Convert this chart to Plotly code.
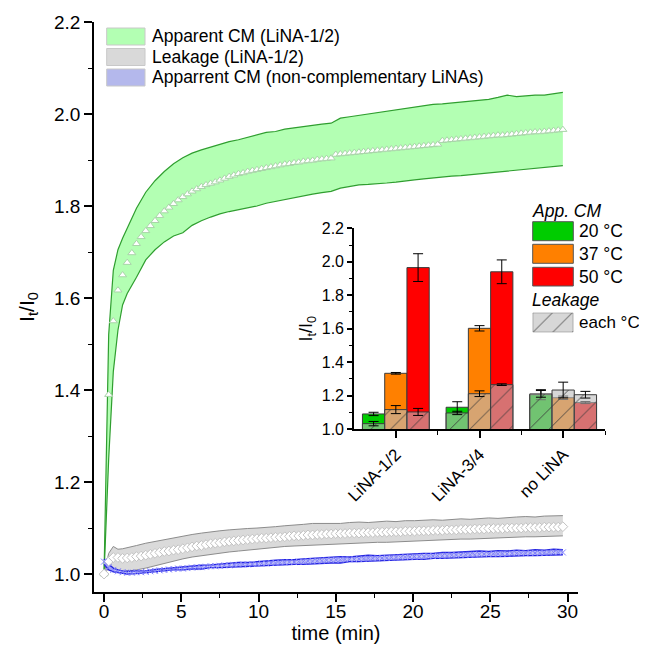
import plotly.graph_objects as go

# ---------------- data: main kinetics (t in min, step 0.3 min for means) ----------------
green_mean = [1.000, 1.390, 1.550, 1.617, 1.650, 1.677, 1.698, 1.718, 1.733, 1.746,
              1.757, 1.768, 1.779, 1.789, 1.797, 1.805, 1.813, 1.820, 1.826, 1.832,
              1.837, 1.842, 1.846, 1.849, 1.852, 1.856, 1.860, 1.864, 1.867, 1.870,
              1.872, 1.875, 1.877, 1.879, 1.881, 1.883, 1.885, 1.887, 1.889, 1.891,
              1.892, 1.894, 1.895, 1.897, 1.898, 1.899, 1.901, 1.902, 1.903, 1.904,
              1.912, 1.913, 1.914, 1.915, 1.916, 1.917, 1.918, 1.919, 1.920, 1.921,
              1.922, 1.923, 1.924, 1.925, 1.926, 1.927, 1.928, 1.929, 1.930, 1.931,
              1.932, 1.933, 1.934, 1.942, 1.943, 1.944, 1.945, 1.946, 1.947, 1.948,
              1.949, 1.950, 1.951, 1.952, 1.953, 1.954, 1.954, 1.955, 1.956, 1.957,
              1.958, 1.959, 1.960, 1.961, 1.961, 1.962, 1.963, 1.964, 1.965, 1.966]

gray_mean = [1.000, 1.028, 1.036, 1.036, 1.034, 1.035, 1.036, 1.038, 1.039, 1.041,
             1.043, 1.045, 1.047, 1.049, 1.050, 1.052, 1.053, 1.055, 1.057, 1.059,
             1.061, 1.062, 1.064, 1.066, 1.067, 1.068, 1.070, 1.071, 1.072, 1.073,
             1.074, 1.075, 1.076, 1.077, 1.078, 1.078, 1.079, 1.080, 1.080, 1.081,
             1.082, 1.083, 1.083, 1.084, 1.085, 1.085, 1.086, 1.086, 1.087, 1.087,
             1.088, 1.088, 1.088, 1.089, 1.089, 1.089, 1.090, 1.090, 1.090, 1.091,
             1.091, 1.091, 1.092, 1.092, 1.092, 1.093, 1.093, 1.093, 1.094, 1.094,
             1.094, 1.095, 1.095, 1.095, 1.096, 1.096, 1.096, 1.097, 1.097, 1.097,
             1.098, 1.098, 1.098, 1.099, 1.099, 1.099, 1.099, 1.100, 1.100, 1.100,
             1.100, 1.101, 1.101, 1.101, 1.101, 1.102, 1.102, 1.102, 1.102, 1.103]

blue_mean = [1.027, 1.015, 1.009, 1.006, 1.004, 1.003, 1.003, 1.004, 1.004, 1.005,
             1.006, 1.007, 1.008, 1.009, 1.010, 1.011, 1.012, 1.012, 1.013, 1.014,
             1.015, 1.015, 1.016, 1.017, 1.017, 1.018, 1.019, 1.019, 1.020, 1.020,
             1.021, 1.021, 1.022, 1.022, 1.023, 1.023, 1.024, 1.024, 1.025, 1.025,
             1.026, 1.026, 1.027, 1.027, 1.028, 1.028, 1.029, 1.029, 1.030, 1.030,
             1.031, 1.031, 1.032, 1.032, 1.032, 1.033, 1.033, 1.034, 1.034, 1.034,
             1.035, 1.035, 1.036, 1.036, 1.036, 1.037, 1.037, 1.038, 1.038, 1.038,
             1.039, 1.039, 1.040, 1.040, 1.040, 1.041, 1.041, 1.041, 1.042, 1.042,
             1.042, 1.043, 1.043, 1.043, 1.044, 1.044, 1.044, 1.044, 1.045, 1.045,
             1.045, 1.045, 1.046, 1.046, 1.046, 1.046, 1.047, 1.047, 1.047, 1.047]

# band edges (SD envelope), sampled at 0,0.3,0.6,0.9,1.2 then every 0.6 min from 1.5
green_upper = [1.000, 1.52, 1.66, 1.705, 1.73, 1.752, 1.795, 1.83, 1.855, 1.875,
               1.892, 1.905, 1.915, 1.922, 1.928, 1.933, 1.940, 1.944, 1.949, 1.955,
               1.960, 1.962, 1.967, 1.970, 1.973, 1.976, 1.978, 1.980, 1.991, 1.994,
               1.997, 2.001, 2.003, 2.006, 2.010, 2.013, 2.016, 2.019, 2.021, 2.022,
               2.024, 2.026, 2.028, 2.030, 2.032, 2.036, 2.041, 2.038, 2.040, 2.041,
               2.041, 2.044, 2.047]
green_lower = [1.000, 1.25, 1.44, 1.53, 1.585, 1.61, 1.645, 1.683, 1.705, 1.722,
               1.735, 1.742, 1.758, 1.768, 1.776, 1.783, 1.788, 1.792, 1.796, 1.800,
               1.806, 1.810, 1.815, 1.819, 1.823, 1.826, 1.829, 1.832, 1.839, 1.842,
               1.846, 1.847, 1.848, 1.850, 1.852, 1.855, 1.857, 1.859, 1.861, 1.864,
               1.865, 1.866, 1.868, 1.870, 1.872, 1.874, 1.876, 1.878, 1.879, 1.881,
               1.884, 1.885, 1.888]
gray_upper = [1.000, 1.045, 1.060, 1.054, 1.055, 1.057, 1.062, 1.067, 1.071, 1.075,
              1.079, 1.083, 1.086, 1.089, 1.092, 1.094, 1.096, 1.098, 1.099, 1.100,
              1.101, 1.103, 1.105, 1.106, 1.108, 1.110, 1.110, 1.111, 1.110, 1.112,
              1.113, 1.112, 1.114, 1.115, 1.114, 1.116, 1.116, 1.117, 1.118, 1.117,
              1.119, 1.120, 1.119, 1.121, 1.122, 1.121, 1.123, 1.124, 1.125, 1.124,
              1.126, 1.127, 1.127]
gray_lower = [1.000, 1.012, 1.008, 1.005, 1.005, 1.006, 1.009, 1.013, 1.018, 1.024,
              1.029, 1.033, 1.037, 1.040, 1.043, 1.046, 1.048, 1.050, 1.052, 1.055,
              1.057, 1.058, 1.060, 1.061, 1.062, 1.063, 1.063, 1.064, 1.066, 1.066,
              1.067, 1.068, 1.069, 1.069, 1.070, 1.071, 1.072, 1.073, 1.074, 1.074,
              1.075, 1.076, 1.076, 1.077, 1.077, 1.078, 1.079, 1.080, 1.081, 1.081,
              1.082, 1.082, 1.083]
blue_upper = [1.033, 1.021, 1.013, 1.009, 1.007, 1.006, 1.007, 1.007, 1.010, 1.012,
              1.013, 1.015, 1.017, 1.019, 1.020, 1.022, 1.023, 1.025, 1.025, 1.027,
              1.029, 1.030, 1.031, 1.031, 1.033, 1.034, 1.035, 1.036, 1.038, 1.037,
              1.039, 1.041, 1.040, 1.041, 1.043, 1.043, 1.044, 1.045, 1.045, 1.047,
              1.047, 1.048, 1.048, 1.050, 1.049, 1.051, 1.050, 1.052, 1.051, 1.053,
              1.052, 1.054, 1.053]
blue_lower = [1.021, 1.009, 1.005, 1.003, 1.001, 1.000, 1.001, 1.003, 1.004, 1.006,
              1.009, 1.009, 1.011, 1.011, 1.014, 1.014, 1.015, 1.015, 1.017, 1.017,
              1.018, 1.019, 1.020, 1.021, 1.021, 1.022, 1.024, 1.024, 1.024, 1.027,
              1.027, 1.028, 1.028, 1.030, 1.030, 1.031, 1.032, 1.032, 1.034, 1.034,
              1.035, 1.035, 1.037, 1.037, 1.038, 1.038, 1.039, 1.039, 1.040, 1.040,
              1.041, 1.041, 1.042]

t_mean = [round(0.3 * i, 2) for i in range(len(green_mean))]
t_band = [0, 0.3, 0.6, 0.9, 1.2] + [round(1.5 + 0.6 * k, 2) for k in range(len(green_upper) - 5)]

# ---------------- data: inset bars ----------------
groups = ["LiNA-1/2", "LiNA-3/4", "no LiNA"]
temps = ["20 °C", "37 °C", "50 °C"]
app_cm = {"20 °C": [1.090, 1.130, 1.205], "37 °C": [1.333, 1.602, 1.187], "50 °C": [1.965, 1.940, 1.158]}
app_err = {"20 °C": [0.010, 0.033, 0.030], "37 °C": [0.005, 0.016, 0.010], "50 °C": [0.083, 0.071, 0.006]}
leak = {"20 °C": [1.032, 1.096, 1.210], "37 °C": [1.116, 1.211, 1.233], "50 °C": [1.102, 1.265, 1.205]}
leak_err = {"20 °C": [0.013, 0.010, 0.020], "37 °C": [0.024, 0.017, 0.047], "50 °C": [0.021, 0.005, 0.020]}
bar_colors = {"20 °C": "#00cc00", "37 °C": "#ff8000", "50 °C": "#ff0000"}

legend_main = ["Apparent CM (LiNA-1/2)", "Leakage (LiNA-1/2)", "Apparrent CM (non-complementary LiNAs)"]

FONT = "Arial, 'Liberation Sans', sans-serif"

# ---------------- layout helpers (page pixel -> paper); page body adds an 8 px offset ----------------
OFF = 8
W, H = 647 - OFF, 656 - OFF
ML, MR, MT, MB = 94 - OFF, 20, 22 - OFF, 64
PW, PH = W - ML - MR, H - MT - MB
def px(x):
    return (x - OFF - ML) / PW
def py(y):
    return (H - MB - (y - OFF)) / PH

fig = go.Figure()

def band(tb, lo, hi, edge, fillcol, width, pattern=None):
    fig.add_trace(go.Scatter(x=tb, y=lo, mode="lines", line=dict(color=edge, width=width),
                             showlegend=False, hoverinfo="skip"))
    kw = dict(fill="tonexty", fillcolor=fillcol)
    if pattern:
        kw["fillpattern"] = pattern
    fig.add_trace(go.Scatter(x=tb, y=hi, mode="lines", line=dict(color=edge, width=width),
                             showlegend=False, hoverinfo="skip", **kw))

band(t_band, green_lower, green_upper, "#2f9e2f", "#b3ffb3", 1.2)
band(t_band, gray_lower, gray_upper, "#8c8c8c", "#dadada", 1.0)
band(t_band, blue_lower, blue_upper, "#2424e0", "#c4c6f4", 1.4,
     pattern=dict(shape="x", fgcolor="#6a6af0", bgcolor="#c4c6f4", size=4, solidity=0.35))

fig.add_trace(go.Scatter(x=t_mean, y=green_mean, mode="markers", showlegend=False,
                         marker=dict(symbol="triangle-up", size=7, color="white",
                                     line=dict(color="#a9d4a9", width=1))))
fig.add_trace(go.Scatter(x=t_mean, y=gray_mean, mode="markers", showlegend=False,
                         marker=dict(symbol="diamond", size=7.5, color="white",
                                     line=dict(color="#c2c2c2", width=1))))
fig.add_trace(go.Scatter(x=t_mean, y=blue_mean, mode="markers", showlegend=False,
                         marker=dict(symbol="x-thin", size=6, color="#8080ff",
                                     line=dict(color="#8080ff", width=1))))

# ---------------- inset bars ----------------
offs = [-0.266, 0.0, 0.266]
pattern_leak = dict(shape="/", fgcolor="#3a3a3a", fgopacity=0.85, size=14, solidity=0.07, fillmode="overlay")
for k, tp in enumerate(temps):
    xs = [g + offs[k] for g in range(len(groups))]
    fig.add_trace(go.Bar(x=xs, y=app_cm[tp], width=0.266, xaxis="x2", yaxis="y2",
                         marker=dict(color=bar_colors[tp], line=dict(color="#3c3c3c", width=1)),
                         error_y=dict(type="data", array=app_err[tp], color="black", thickness=1, width=5),
                         showlegend=False))
for k, tp in enumerate(temps):
    xs = [g + offs[k] for g in range(len(groups))]
    fig.add_trace(go.Bar(x=xs, y=leak[tp], width=0.266, xaxis="x2", yaxis="y2",
                         marker=dict(color="rgba(188,188,188,0.6)", line=dict(color="#3c3c3c", width=1),
                                     pattern=pattern_leak),
                         error_y=dict(type="data", array=leak_err[tp], color="black", thickness=1, width=5),
                         showlegend=False))

# hatched swatch for inset legend (tiny dedicated axes)
fig.add_trace(go.Bar(x=[0], y=[1], width=1, xaxis="x3", yaxis="y3", showlegend=False, hoverinfo="skip",
                     marker=dict(color="rgba(188,188,188,0.6)", line=dict(color="#6a6a6a", width=1),
                                 pattern=pattern_leak)))

axis_common = dict(showline=True, linecolor="black", linewidth=1.6, ticks="outside",
                   tickcolor="black", tickwidth=1.6, showgrid=False, zeroline=False, automargin=False,
                   tickfont=dict(family=FONT, size=19, color="black"))

fig.update_layout(
    width=W, height=H, margin=dict(l=ML, r=MR, t=MT, b=MB, autoexpand=False),
    paper_bgcolor="white", plot_bgcolor="rgba(0,0,0,0)",
    barmode="overlay", showlegend=False,
    font=dict(family=FONT, color="black"),
    xaxis=dict(domain=[0, px(578)], range=[-0.65, 30.68], tickvals=[0, 5, 10, 15, 20, 25, 30],
               ticklen=8, ticklabelstandoff=-7,
               minor=dict(dtick=2.5, tick0=0, ticklen=4, ticks="outside", tickcolor="black", tickwidth=1.4),
               title=dict(text="time (min)", font=dict(family=FONT, size=20), standoff=1),
               **axis_common),
    yaxis=dict(domain=[0, 1], range=[0.961, 2.2], tickvals=[1.0, 1.2, 1.4, 1.6, 1.8, 2.0, 2.2],
               ticktext=["1.0", "1.2", "1.4", "1.6", "1.8", "2.0", "2.2"], ticklen=8,
               minor=dict(dtick=0.1, tick0=1.0, ticklen=4, ticks="outside", tickcolor="black", tickwidth=1.4),
               title=dict(text="I<sub>t</sub>/I<sub>0</sub>", font=dict(family=FONT, size=21), standoff=14),
               **axis_common),
    xaxis2=dict(domain=[px(354), px(605)], anchor="y2", range=[-0.5, 2.5], tickvals=[0, 1, 2],
                ticktext=groups, tickangle=-45, ticklen=7,
                minor=dict(tickvals=[0.5, 1.5, 2.5], ticklen=4, ticks="outside", tickcolor="black", tickwidth=1.4),
                **{**axis_common, "tickfont": dict(family=FONT, size=17, color="black")}),
    yaxis2=dict(domain=[py(429), py(228.3)], anchor="x2", range=[1.0, 2.2],
                tickvals=[1.0, 1.2, 1.4, 1.6, 1.8, 2.0, 2.2],
                ticktext=["1.0", "1.2", "1.4", "1.6", "1.8", "2.0", "2.2"], ticklen=5,
                minor=dict(dtick=0.1, tick0=1.0, ticklen=3, ticks="outside", tickcolor="black", tickwidth=1.4),
                title=dict(text="I<sub>t</sub>/I<sub>0</sub>", font=dict(family=FONT, size=18), standoff=4),
                **{**axis_common, "tickfont": dict(family=FONT, size=16, color="black")}),
    xaxis3=dict(domain=[px(532.7), px(573.3)], anchor="y3", range=[-0.5, 0.5], visible=False, fixedrange=True),
    yaxis3=dict(domain=[py(332.3), py(312.7)], anchor="x3", range=[0, 1], visible=False, fixedrange=True),
)

# ---------------- manual legends ----------------
shapes, annotations = [], []
main_sw = [("#b3ffb3", 28, 45), ("#d9d9d9", 48.5, 65.5), ("#b4b8ec", 69, 86)]
for (col, y0, y1), lab in zip(main_sw, legend_main):
    shapes.append(dict(type="rect", xref="paper", yref="paper", x0=px(106.7), x1=px(145),
                       y0=py(y1), y1=py(y0), fillcolor=col, line=dict(color="#c8c8c8", width=1)))
    annotations.append(dict(xref="paper", yref="paper", x=px(150), y=py((y0 + y1) / 2), text=lab,
                            showarrow=False, xanchor="left", yanchor="middle",
                            font=dict(family=FONT, size=17.5, color="black")))

inset_sw = [(221.7, 240.7), (244.3, 263.3), (267.3, 286.0)]
for (y0, y1), tp in zip(inset_sw, temps):
    shapes.append(dict(type="rect", xref="paper", yref="paper", x0=px(532.7), x1=px(573.3),
                       y0=py(y1), y1=py(y0), fillcolor=bar_colors[tp], line=dict(color="#555555", width=1)))
    annotations.append(dict(xref="paper", yref="paper", x=px(577), y=py((y0 + y1) / 2), text=tp,
                            showarrow=False, xanchor="left", yanchor="middle",
                            font=dict(family=FONT, size=17.5, color="black")))
annotations.append(dict(xref="paper", yref="paper", x=px(530), y=py(211), text="<i>App. CM</i>",
                        showarrow=False, xanchor="left", yanchor="middle",
                        font=dict(family=FONT, size=17.5, color="black")))
annotations.append(dict(xref="paper", yref="paper", x=px(530), y=py(299.5), text="<i>Leakage</i>",
                        showarrow=False, xanchor="left", yanchor="middle",
                        font=dict(family=FONT, size=17.5, color="black")))
annotations.append(dict(xref="paper", yref="paper", x=px(577), y=py(322.5), text="each °C",
                        showarrow=False, xanchor="left", yanchor="middle",
                        font=dict(family=FONT, size=17, color="black")))

fig.update_layout(shapes=shapes, annotations=annotations)
fig.write_html("out.html")
